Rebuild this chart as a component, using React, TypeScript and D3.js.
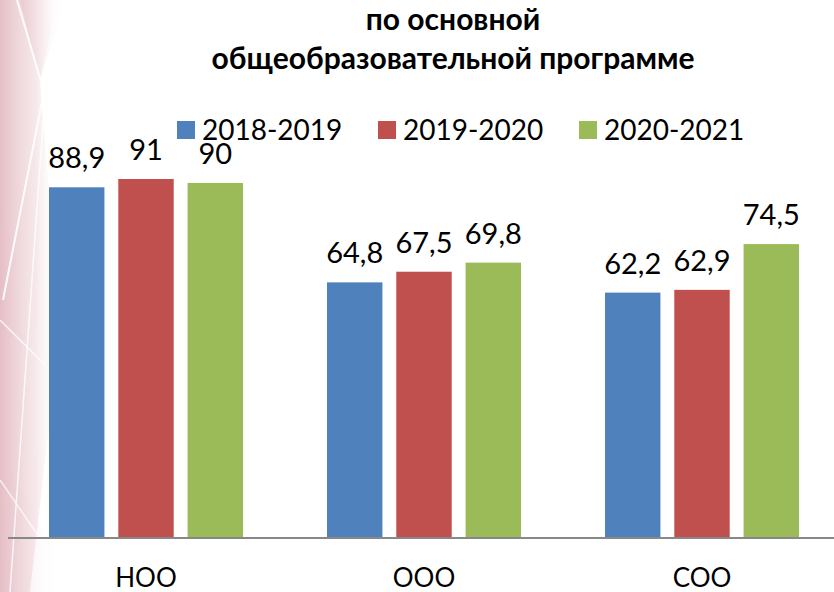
import React from "react";
import * as d3 from "d3";

const categories = ["НОО", "ООО", "СОО"];
const seriesNames = ["2018-2019", "2019-2020", "2020-2021"];
const values2018 = [88.9, 64.8, 62.2];
const values2019 = [91, 67.5, 62.9];
const values2020 = [90, 69.8, 74.5];
const valueLabels2018 = ["88,9", "64,8", "62,2"];
const valueLabels2019 = ["91", "67,5", "62,9"];
const valueLabels2020 = ["90", "69,8", "74,5"];
const colors = ["#4F81BD", "#C0504D", "#9BBB59"];
const titleLines = ["по основной", "общеобразовательной программе"];

const W = 834;
const H = 592;
const FONT = "Lato, 'Open Sans', 'Noto Sans', sans-serif";

export default function App() {
  const series = [values2018, values2019, values2020];
  const labels = [valueLabels2018, valueLabels2019, valueLabels2020];
  const x0 = d3.scaleBand<string>().domain(categories).range([7, 841]);
  const x1 = d3
    .scaleBand<string>()
    .domain(seriesNames)
    .range([42, 236])
    .paddingInner(0.2);
  const y = d3.scaleLinear().domain([0, 100]).range([538, 143.5]);
  const legendX = [177, 378, 579];

  return (
    <svg
      width={W}
      height={H}
      style={{ position: "absolute", left: 0, top: 0, background: "#fff" }}
    >
      <defs>
        <linearGradient id="bgPink" x1="0" y1="0" x2="1" y2="0">
          <stop offset="0" stopColor="#dcaab3" stopOpacity="0.75" />
          <stop offset="0.6" stopColor="#ebcdd2" stopOpacity="0.45" />
          <stop offset="1" stopColor="#ffffff" stopOpacity="0" />
        </linearGradient>
        <linearGradient id="bgPink2" x1="0" y1="0" x2="1" y2="0">
          <stop offset="0" stopColor="#e5bec5" stopOpacity="0.6" />
          <stop offset="1" stopColor="#ffffff" stopOpacity="0" />
        </linearGradient>
      </defs>
      <g>
        <polygon points="0,0 58,0 40,80 60,330 30,592 0,592" fill="url(#bgPink)" />
        <polygon points="20,0 40,80 66,0" fill="url(#bgPink2)" />
        <polygon points="0,200 48,370 32,480 0,560" fill="url(#bgPink2)" />
        <polygon points="10,470 60,560 55,592 0,592" fill="url(#bgPink2)" />
        <line x1="17" y1="0" x2="45" y2="95" stroke="#fff" strokeWidth="2" opacity="0.9" />
        <line x1="62" y1="0" x2="3" y2="300" stroke="#fff" strokeWidth="2" opacity="0.9" />
        <line x1="45" y1="95" x2="10" y2="592" stroke="#fff" strokeWidth="1.5" opacity="0.8" />
        <line x1="0" y1="320" x2="45" y2="365" stroke="#fff" strokeWidth="1.5" opacity="0.8" />
        <line x1="0" y1="480" x2="55" y2="560" stroke="#fff" strokeWidth="1.5" opacity="0.7" />
      </g>

      <g fontFamily={FONT} fontWeight="bold" fontSize={30} textAnchor="middle" fill="#000">
        <text x={453} y={30}>{titleLines[0]}</text>
        <text x={453} y={69}>{titleLines[1]}</text>
      </g>

      <g fontFamily={FONT} fontSize={28} fill="#000">
        {seriesNames.map((s, i) => (
          <g key={s}>
            <rect x={legendX[i]} y={121} width={18} height={18} fill={colors[i]} />
            <text x={legendX[i] + 25} y={140}>{s}</text>
          </g>
        ))}
      </g>

      {categories.map((c, ci) => (
        <g key={c} transform={`translate(${x0(c)},0)`}>
          {seriesNames.map((s, si) => {
            const v = series[si][ci];
            const bx = x1(s)!;
            return (
              <g key={s}>
                <rect
                  x={bx}
                  y={y(v)}
                  width={x1.bandwidth()}
                  height={y(0) - y(v)}
                  fill={colors[si]}
                />
                <text
                  x={bx + x1.bandwidth() / 2}
                  y={y(v) - 19}
                  textAnchor="middle"
                  fontFamily={FONT}
                  fontSize={29}
                  fill="#000"
                >
                  {labels[si][ci]}
                </text>
              </g>
            );
          })}
          <text
            x={x0.bandwidth() / 2}
            y={587}
            textAnchor="middle"
            fontFamily={FONT}
            fontSize={26}
            fill="#000"
          >
            {c}
          </text>
        </g>
      ))}

      <line x1={8} x2={834} y1={538} y2={538} stroke="#888" strokeWidth={2} />
    </svg>
  );
}
